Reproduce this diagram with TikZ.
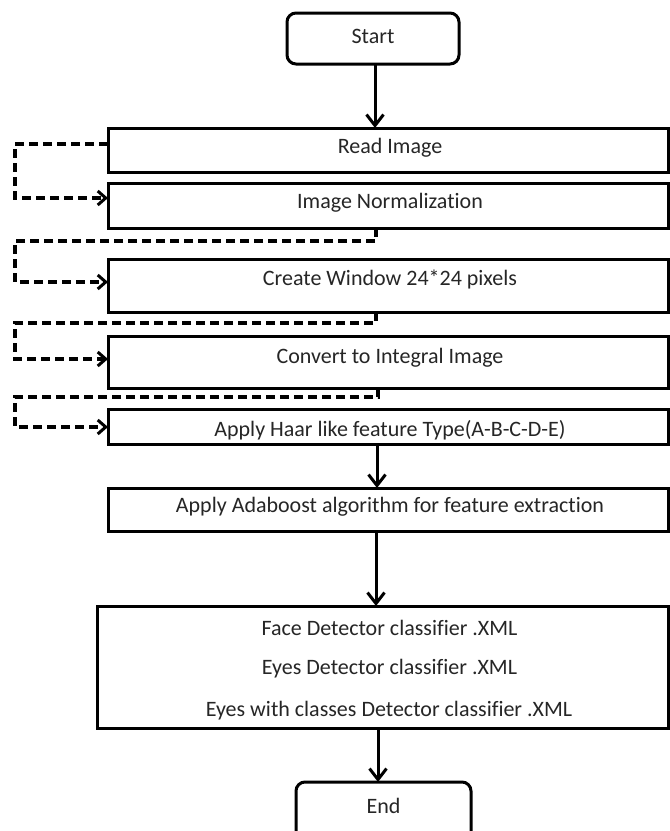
\documentclass[tikz,border=0pt]{standalone}
\usepackage{fontspec}
\setmainfont{Carlito}[Ligatures=NoCommon]
\usetikzlibrary{arrows.meta}
\begin{document}
\begin{tikzpicture}[x=1pt,y=-1pt,
  every node/.style={inner sep=0pt,outer sep=0pt},
  boxshape/.style={draw=black,line width=3pt,fill=white},
  termshape/.style={draw=black,line width=3pt,rounded corners=9pt,fill=white},
  lbl/.style={text=black!85,font=\fontsize{22}{26}\selectfont},
  flow/.style={line width=3pt,-{Straight Barb[length=11pt,width=17pt,line width=3pt]}},
  loop/.style={line width=3.4pt,dash pattern=on 9pt off 5pt,-{Straight Barb[length=8pt,width=14pt,line width=3pt]}}]
\useasboundingbox (0,0) rectangle (670,831);
% boxes
\node[termshape,minimum width=172pt,minimum height=51pt] (start) at (373,38.5) {};
\node[boxshape,minimum width=560pt,minimum height=44pt] (read) at (388,150) {};
\node[boxshape,minimum width=560pt,minimum height=45pt] (norm) at (388,205.5) {};
\node[boxshape,minimum width=560pt,minimum height=53pt] (win) at (388,285.5) {};
\node[boxshape,minimum width=560pt,minimum height=52pt] (conv) at (388,362) {};
\node[boxshape,minimum width=560pt,minimum height=35pt] (haar) at (388,426.5) {};
\node[boxshape,minimum width=560pt,minimum height=43pt] (ada) at (388,509.5) {};
\node[boxshape,minimum width=571pt,minimum height=122pt] (cls) at (382.5,667) {};
\node[termshape,minimum width=175pt,minimum height=80pt] (end) at (383.5,822) {};
% texts
\node[lbl] (startt) at (373,36) {Start};
\node[lbl] (readt) at (390,148) {Read Image};
\node[lbl] (normt) at (390,203) {Image Normalization};
\node[lbl] (wint) at (390,279) {Create Window 24*24 pixels};
\node[lbl] (convt) at (390,358) {Convert to Integral Image};
\node[lbl] (haart) at (390,430) {Apply Haar like feature Type(A-B-C-D-E)};
\node[lbl] (adat) at (390,507) {Apply Adaboost algorithm for feature extraction};
\node[lbl] (facet) at (389.5,628) {Face Detector classifier .XML};
\node[lbl] (eyest) at (389.5,669) {Eyes Detector classifier .XML};
\node[lbl] (eyesct) at (389,711) {Eyes with classes Detector classifier .XML};
\node[lbl] (endt) at (383.5,806) {End};
% solid arrows
\draw[flow] (start.south -| 375,0) -- (read.north -| 375,0);
\draw[flow] (haar.south -| 377,0) -- (ada.north -| 377,0);
\draw[flow] (ada.south -| 376,0) -- (cls.north -| 376,0);
\draw[flow] (cls.south -| 378,0) -- (end.north -| 378,0);
% dashed loops
\draw[loop] (read.west |- 0,144) -- (15,144) -- (15,198) -- (norm.west |- 0,198);
\draw[loop] (norm.south -| 376,0) -- (376,241) -- (15,241) -- (15,282) -- (win.west |- 0,282);
\draw[loop] (win.south -| 376,0) -- (376,323) -- (15,323) -- (15,359) -- (conv.west |- 0,359);
\draw[loop] (conv.south -| 378,0) -- (378,397) -- (15,397) -- (15,427) -- (haar.west |- 0,427);
\end{tikzpicture}
\end{document}
